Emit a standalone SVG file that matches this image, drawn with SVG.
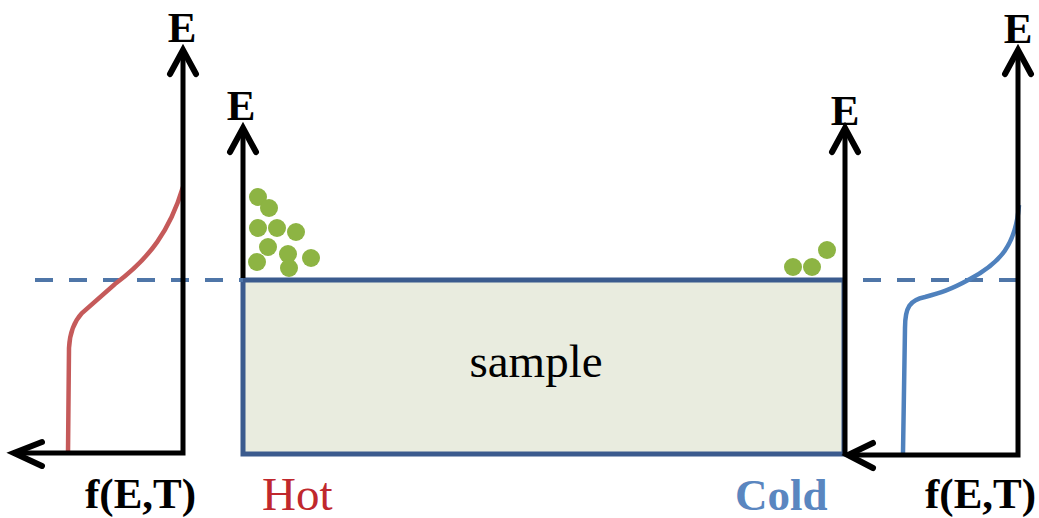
<svg xmlns="http://www.w3.org/2000/svg" width="1039" height="518" viewBox="0 0 1039 518">
<defs>
<style>
.ax{stroke:#000;stroke-width:5;fill:none;stroke-linecap:butt}
.head{stroke:#000;stroke-width:6;fill:none;stroke-linecap:round;stroke-linejoin:miter}
.dash{stroke:#4F76A8;stroke-width:4;stroke-dasharray:18 16;fill:none}
.lbl{font-family:"Liberation Serif","Times New Roman",serif;font-weight:bold;fill:#000}
.dot{fill:#8DB443}
</style>
</defs>
<rect width="1039" height="518" fill="#fff"/>
<g id="sample">
<rect x="243" y="280" width="601" height="174" fill="#E9ECDF" stroke="#3B5B8E" stroke-width="5"/>
<text x="536" y="377" font-family="'Liberation Serif', 'Times New Roman', serif" font-size="47" text-anchor="middle" fill="#000">sample</text>
</g>
<g id="dashes">
<line class="dash" x1="35" y1="280" x2="243" y2="280"/>
<line class="dash" x1="863" y1="280" x2="1020" y2="280"/>
</g>
<g id="hot-curve">
<path d="M183,187 C170,230 150,258 115,284 L82,313 Q70,326 69,348 L68,453" fill="none" stroke="#C55A5A" stroke-width="4.5"/>
</g>
<g id="cold-curve">
<path d="M1019,205 C1016,245 1000,263 970,279 C950,290 940,293 925,297 C910,300 905,307 905,328 L903,453" fill="none" stroke="#4F81BD" stroke-width="4.5"/>
</g>
<g id="connectors">
<path class="ax" d="M183,50 L183,453 L13,453"/>
<path class="head" d="M170,74 L183,50 L196,74"/>
<path class="head" d="M42,442 L14,453 L42,466"/>
<path class="ax" d="M243,128 L243,278"/>
<path class="head" d="M230,152 L243,128 L256,152"/>
<path class="ax" d="M845,128 L845,455"/>
<path class="head" d="M832,152 L845,128 L858,152"/>
<path class="ax" d="M1018,50 L1018,455 L847,455"/>
<path class="head" d="M1005,74 L1018,50 L1031,74"/>
<path class="head" d="M873,443 L848,455 L873,468"/>
</g>
<g id="labels">
<text class="lbl" x="182" y="42" font-size="43" text-anchor="middle">E</text>
<text class="lbl" x="241" y="120" font-size="43" text-anchor="middle">E</text>
<text class="lbl" x="845" y="125" font-size="43" text-anchor="middle">E</text>
<text class="lbl" x="1018" y="43" font-size="43" text-anchor="middle">E</text>
<text class="lbl" x="85" y="508" font-size="43">f(E,T)</text>
<text class="lbl" x="925" y="508" font-size="43">f(E,T)</text>
<text x="262" y="510" font-family="'Liberation Serif', 'Times New Roman', serif" font-size="47" fill="#C0282D">Hot</text>
<text x="735" y="510" font-family="'Liberation Serif', 'Times New Roman', serif" font-weight="bold" font-size="45" fill="#5A86C0">Cold</text>
</g>
<g id="hot-particles">
<circle class="dot" cx="258" cy="197" r="9"/>
<circle class="dot" cx="269" cy="208" r="9"/>
<circle class="dot" cx="258" cy="228" r="9"/>
<circle class="dot" cx="277" cy="228" r="9"/>
<circle class="dot" cx="296" cy="232" r="9"/>
<circle class="dot" cx="268" cy="247" r="9"/>
<circle class="dot" cx="288" cy="254" r="9"/>
<circle class="dot" cx="257" cy="262" r="9"/>
<circle class="dot" cx="311" cy="258" r="9"/>
<circle class="dot" cx="289" cy="268" r="9"/>
</g>
<g id="cold-particles">
<circle class="dot" cx="827" cy="250" r="9"/>
<circle class="dot" cx="793" cy="267" r="9"/>
<circle class="dot" cx="812" cy="267" r="9"/>
</g>
</svg>
